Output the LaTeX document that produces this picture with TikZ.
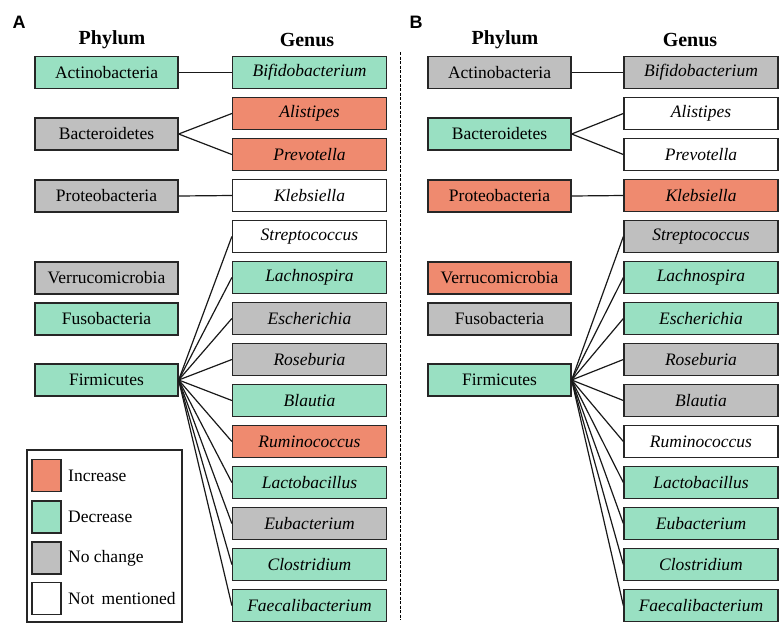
\documentclass[tikz,border=0pt]{standalone}
\usepackage{fontspec}
\setmainfont{Liberation Serif}
\newfontfamily\labfont{Liberation Sans}
\newfontfamily\tnrfont{Liberation Serif}
\definecolor{inc}{HTML}{EF8A6F}
\definecolor{dec}{HTML}{99E0C2}
\definecolor{noc}{HTML}{BFBFBF}
\begin{document}
\begin{tikzpicture}[x=1pt,y=-1pt,
  bx/.style={draw=black!85, line width=1.3pt, inner sep=0pt, minimum height=32pt, font=\tnrfont\fontsize{17.5}{20}\selectfont},
  phy/.style={bx, minimum width=143pt},
  gen/.style={bx, minimum width=154pt, font=\tnrfont\fontsize{17.5}{20}\selectfont\itshape},
  hdr/.style={font=\tnrfont\fontsize{20}{24}\selectfont\bfseries},
  lnk/.style={line width=1.2pt, black!90},
  panel/.style={font=\labfont\fontsize{18}{20}\selectfont\bfseries},
  leg/.style={draw=black!85, line width=1.3pt, minimum width=29pt, minimum height=32pt, inner sep=0pt},
  legtxt/.style={anchor=west, inner sep=0pt, font=\tnrfont\fontsize{17.5}{20}\selectfont}]
\useasboundingbox (0,0) rectangle (779,630);

% panel labels and headers
\node[panel] (lA) at (19,22) {A};
\node[panel] (lB) at (416,22) {B};
\node[hdr] (hpA) at (112,40) {Phylum};
\node[hdr] (hgA) at (307,40) {Genus};
\node[hdr] (hpB) at (505,40) {Phylum};
\node[hdr] (hgB) at (690,40) {Genus};

% separator
\coordinate (s1) at (400,52);
\coordinate (s2) at (400,620);
\draw[line width=0.9pt, dash pattern=on 3pt off 1.5pt] (s1) -- (s2);

% Panel A phyla
\foreach \n/\c/\y [count=\i from 0] in {Actinobacteria/dec/72.5, Bacteroidetes/noc/134, Proteobacteria/noc/196, Verrucomicrobia/noc/278, Fusobacteria/dec/319, Firmicutes/dec/380}
  \node[phy, fill=\c] (pa\i) at (106.5,\y) {\n};
% Panel A genera
\foreach \n/\c [count=\i from 0] in {Bifidobacterium/dec, Alistipes/inc, Prevotella/inc, Klebsiella/white, Streptococcus/white, Lachnospira/dec, Escherichia/noc, Roseburia/noc, Blautia/dec, Ruminococcus/inc, Lactobacillus/dec, Eubacterium/noc, Clostridium/dec, Faecalibacterium/dec}
  \node[gen, fill=\c] (ga\i) at (309.5,{72.5+41*\i}) {\n};

% Panel B phyla
\foreach \n/\c/\y [count=\i from 0] in {Actinobacteria/noc/72.5, Bacteroidetes/dec/134, Proteobacteria/inc/196, Verrucomicrobia/inc/278, Fusobacteria/noc/319, Firmicutes/dec/380}
  \node[phy, fill=\c] (pb\i) at (499.5,\y) {\n};
% Panel B genera
\foreach \n/\c [count=\i from 0] in {Bifidobacterium/noc, Alistipes/white, Prevotella/white, Klebsiella/inc, Streptococcus/noc, Lachnospira/dec, Escherichia/dec, Roseburia/noc, Blautia/noc, Ruminococcus/white, Lactobacillus/dec, Eubacterium/dec, Clostridium/dec, Faecalibacterium/dec}
  \node[gen, fill=\c] (gb\i) at (701,{72.5+41*\i}) {\n};

% connectors
\foreach \p in {a,b} {
  \draw[lnk] (p\p0.east) -- (g\p0.west);
  \draw[lnk] (p\p1.east) -- (g\p1.west);
  \draw[lnk] (p\p1.east) -- (g\p2.west);
  \draw[lnk] (p\p2.east) -- (g\p3.west);
  \foreach \k in {4,...,13}
    \draw[lnk] (p\p5.east) -- (g\p\k.west);
}

% legend
\node[draw=black!85, line width=1.3pt, minimum width=155pt, minimum height=172pt, inner sep=0pt] (legbox) at (104.5,536) {};
\node[leg, fill=inc] (l1) at (46.5,475.5) {};
\node[leg, fill=dec] (l2) at (46.5,517) {};
\node[leg, fill=noc] (l3) at (46.5,558) {};
\node[leg, fill=white] (l4) at (46.5,598.5) {};
\node[legtxt] (t1) at (68,475.5) {Increase};
\node[legtxt] (t2) at (68,517) {Decrease};
\node[legtxt] (t3) at (68,558) {No change};
\node[legtxt] (t4) at (68,598.5) {Not\, mentioned};
\end{tikzpicture}
\end{document}
